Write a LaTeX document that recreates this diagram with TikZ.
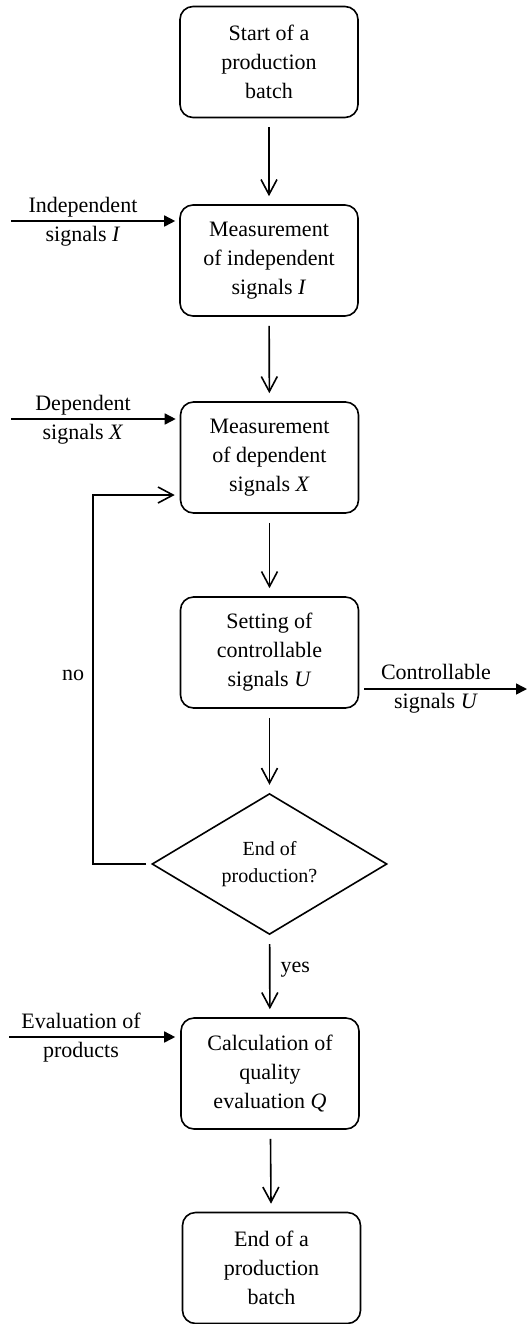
\documentclass[tikz,border=0pt]{standalone}
\usepackage{fontspec}
\setmainfont{Liberation Serif}
\usetikzlibrary{arrows.meta,shapes.geometric}
\begin{document}
\begin{tikzpicture}[x=0.5pt,y=-0.5pt,
  box/.style={draw,line width=0.8pt,rounded corners=6.5pt,minimum width=89pt,minimum height=55.5pt,align=center,inner sep=0pt,font=\fontsize{11}{14.5}\selectfont},
  decision/.style={draw,line width=0.8pt,diamond,minimum width=117.5pt,minimum height=70pt,inner sep=0pt,align=center,font=\fontsize{10}{13.5}\selectfont},
  lbl/.style={align=center,inner sep=0pt,font=\fontsize{11}{14.5}\selectfont},
  flow/.style={line width=0.8pt,-{Straight Barb[length=7.5pt,width=8pt]},shorten <=4.5pt,shorten >=4pt},
  loopback/.style={line width=0.8pt,-{Straight Barb[length=7.5pt,width=8pt]},shorten <=2.5pt,shorten >=2.5pt},
  feed/.style={line width=0.8pt,-{Triangle[length=5.5pt,width=5.5pt]}},
]
\useasboundingbox (0,0) rectangle (528,1324);

\node[box] (b1) at (269,62) {Start of a\\production\\batch};
\node[box] (b2) at (269,260.5) {Measurement\\of independent\\signals \textit{I}};
\node[box] (b3) at (269.5,457.5) {Measurement\\of dependent\\signals \textit{X}};
\node[box] (b4) at (269.5,652.5) {Setting of\\controllable\\signals \textit{U}};
\node[decision] (d) at (269.5,864) {End of\\production?};
\node[box] (b5) at (270,1073.5) {Calculation of\\quality\\evaluation \textit{Q}};
\node[box] (b6) at (271.5,1268) {End of a\\production\\batch};

\draw[flow] (b1) -- (b2);
\draw[flow] (b2) -- (b3);
\draw[flow] (b3) -- (b4);
\draw[flow] (b4) -- (d);
\draw[flow] (d) -- node[lbl,right=5pt,pos=0.42] (yes) {yes} (b5);
\draw[flow] (b5) -- (b6);

% inputs
\coordinate (i1) at (11,221);
\coordinate (i2) at (11,419);
\coordinate (i3) at (9,1037);
\draw[feed,shorten >=2pt] (i1) -- (b2.west |- i1);
\draw[feed,shorten >=2pt] (i2) -- (b3.west |- i2);
\draw[feed,shorten >=2.5pt] (i3) -- (b5.west |- i3);
\node[lbl] (li1) at (83,221.5) {Independent\\signals \textit{I}};
\node[lbl] (li2) at (83,419.5) {Dependent\\signals \textit{X}};
\node[lbl] (li3) at (81,1037.5) {Evaluation of\\products};

% output
\coordinate (o1) at (527,689);
\draw[feed,shorten <=2.5pt] (b4.east |- o1) -- (o1);
\node[lbl] (lo1) at (436,689) {Controllable\\signals \textit{U}};

% loop back
\coordinate (fb) at (93,864);
\path (b3.west) ++(0,37.5) coordinate (b3in);
\draw[loopback] (d.west) -- (fb) |- (b3in);
\node[lbl] (no) at (73,675) {no};
\end{tikzpicture}
\end{document}
